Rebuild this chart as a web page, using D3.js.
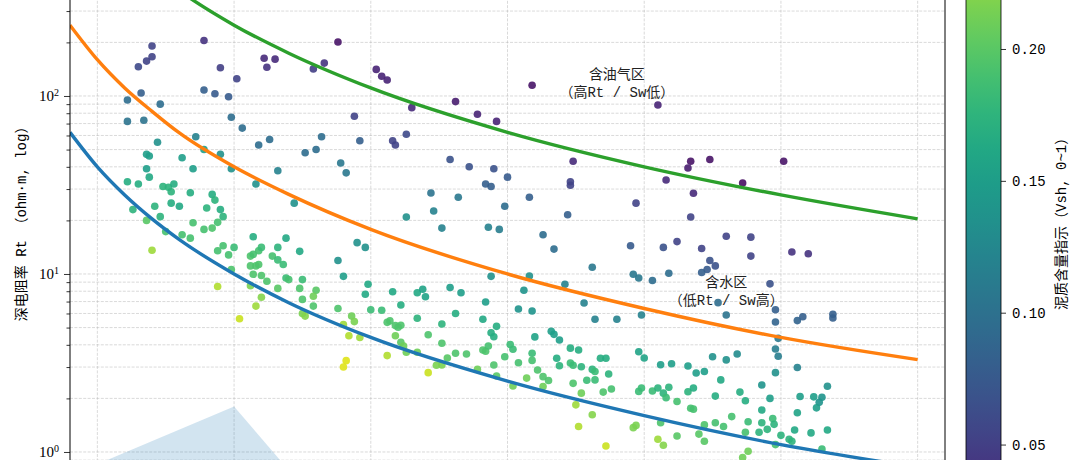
<!DOCTYPE html>
<html>
<head>
<meta charset="utf-8">
<script src="https://cdn.jsdelivr.net/npm/d3@7"></script>
<style>
html, body { margin: 0; padding: 0; background: #fff; overflow: hidden; }
svg { display: block; font-family: "Liberation Mono", "Noto Sans CJK SC", monospace; }
</style>
</head>
<body>
<svg id="chart" width="1080" height="460"></svg>
<script>
// Log samples: [porosity, deep resistivity Rt (ohm·m), Vsh]
const samples = [
  [0.070,191,0.054],[0.068,157,0.054],[0.070,166,0.054],[0.065,146,0.060],[0.089,205,0.040],
  [0.095,144,0.050],[0.101,125,0.054],[0.111,163,0.032],[0.112,145,0.040],[0.115,161,0.032],
  [0.138,201,0.014],[0.129,142,0.050],[0.133,153,0.040],[0.061,95,0.095],[0.066,104,0.081],
  [0.073,90,0.095],[0.061,72,0.103],[0.067,73,0.103],[0.089,108,0.081],[0.093,103,0.076],
  [0.098,99,0.076],[0.099,76,0.095],[0.103,66,0.095],[0.144,77,0.054],[0.146,56,0.081],
  [0.072,55,0.135],[0.086,59,0.120],[0.068,47,0.150],[0.069,46,0.150],[0.081,45,0.150],
  [0.089,50,0.150],[0.095,47,0.135],[0.109,53,0.095],[0.113,57,0.095],[0.132,59,0.095],
  [0.126,48,0.095],[0.130,50,0.095],[0.068,39,0.150],[0.069,35,0.162],[0.085,39,0.150],
  [0.099,39,0.135],[0.116,38,0.120],[0.139,42,0.108],[0.141,37,0.108],[0.061,33,0.167],
  [0.065,32,0.167],[0.074,31,0.175],[0.076,30.7,0.175],[0.078,32,0.167],[0.077,29,0.175],
  [0.084,28.6,0.167],[0.092,28,0.167],[0.093,26,0.175],[0.108,32,0.135],[0.122,25,0.135],
  [0.063,23,0.175],[0.071,24,0.175],[0.073,21,0.175],[0.077,25,0.167],[0.080,24,0.162],
  [0.090,23.5,0.175],[0.095,23,0.167],[0.096,21,0.175],[0.094,19.5,0.190],[0.068,20,0.200],
  [0.085,19.4,0.190],[0.089,17.8,0.190],[0.092,18.1,0.195],[0.070,13.6,0.230],[0.075,17.3,0.190],
  [0.081,16.6,0.190],[0.084,15.9,0.190],[0.107,16.2,0.167],[0.119,15.9,0.162],[0.145,15.0,0.135],
  [0.094,13.5,0.190],[0.096,14.4,0.190],[0.098,12.8,0.190],[0.100,14.1,0.184],[0.106,12.6,0.195],
  [0.107,12.9,0.190],[0.109,13.5,0.190],[0.110,14.1,0.184],[0.114,12.6,0.190],[0.116,14.1,0.175],
  [0.116,12.0,0.184],[0.118,11.3,0.184],[0.124,13.4,0.162],[0.106,11.1,0.195],[0.108,11.1,0.195],
  [0.109,11.3,0.195],[0.107,9.96,0.195],[0.110,9.8,0.195],[0.112,9.1,0.195],[0.099,10.6,0.195],
  [0.119,9.5,0.184],[0.120,9.3,0.190],[0.125,9.3,0.184],[0.094,8.5,0.238],[0.106,8.6,0.216],
  [0.116,8.3,0.200],[0.124,8.3,0.195],[0.130,8.1,0.200],[0.129,7.5,0.210],[0.125,7.2,0.195],
  [0.138,11.9,0.135],[0.140,9.7,0.150],[0.110,7.4,0.220],[0.108,6.6,0.230],[0.129,6.6,0.195],
  [0.138,6.4,0.195],[0.102,5.6,0.248],[0.125,6.0,0.216],[0.126,5.8,0.220],[0.143,5.8,0.210],
  [0.144,5.4,0.216],[0.140,5.2,0.230],[0.142,4.5,0.238],[0.146,4.4,0.230],[0.141,3.26,0.257],
  [0.140,3.0,0.257],[0.152,141,0.027],[0.154,129,0.027],[0.156,123,0.027],[0.165,86,0.032],
  [0.181,93,0.022],[0.189,79,0.027],[0.196,72,0.027],[0.209,115,0.014],[0.158,56,0.054],
  [0.159,53,0.054],[0.163,61,0.060],[0.179,44,0.068],[0.186,40,0.068],[0.195,39,0.068],
  [0.200,35,0.076],[0.192,32,0.081],[0.194,31,0.081],[0.208,27,0.081],[0.172,28.5,0.103],
  [0.182,27,0.108],[0.199,24,0.095],[0.173,22.6,0.120],[0.163,20.9,0.135],[0.176,18.1,0.120],
  [0.193,18.3,0.120],[0.197,17.8,0.113],[0.148,14.1,0.135],[0.213,16.6,0.095],[0.217,13.8,0.095],
  [0.194,9.7,0.135],[0.208,9.75,0.135],[0.206,8.1,0.140],[0.149,8.75,0.162],[0.148,7.7,0.162],
  [0.158,7.95,0.162],[0.167,7.85,0.162],[0.169,8.2,0.157],[0.170,7.45,0.157],[0.179,8.4,0.150],
  [0.183,7.85,0.150],[0.192,6.96,0.150],[0.161,6.7,0.167],[0.150,6.3,0.184],[0.154,6.25,0.184],
  [0.204,6.36,0.140],[0.209,6.2,0.140],[0.181,6.0,0.167],[0.167,5.64,0.175],[0.191,5.57,0.162],
  [0.156,5.35,0.195],[0.157,5.45,0.195],[0.159,5.13,0.195],[0.161,5.15,0.195],[0.160,5.02,0.195],
  [0.176,5.24,0.175],[0.196,5.08,0.167],[0.171,4.56,0.195],[0.159,4.5,0.210],[0.194,4.68,0.167],
  [0.195,4.44,0.167],[0.216,4.77,0.150],[0.217,4.58,0.150],[0.210,4.43,0.157],[0.161,4.13,0.200],
  [0.162,3.94,0.210],[0.176,4.08,0.195],[0.163,3.63,0.210],[0.156,3.48,0.238],[0.167,3.63,0.210],
  [0.178,3.37,0.200],[0.181,3.59,0.195],[0.185,3.55,0.195],[0.191,3.74,0.195],[0.192,3.68,0.195],
  [0.193,3.94,0.190],[0.201,4.01,0.184],[0.202,3.78,0.184],[0.199,3.43,0.190],[0.209,3.59,0.184],
  [0.209,3.27,0.190],[0.204,3.17,0.190],[0.174,3.07,0.216],[0.176,3.08,0.216],[0.195,3.08,0.195],
  [0.171,2.79,0.248],[0.189,2.91,0.210],[0.196,2.67,0.200],[0.211,2.89,0.195],[0.207,2.6,0.210],
  [0.213,2.65,0.195],[0.215,2.52,0.195],[0.213,2.33,0.210],[0.202,2.35,0.210],[0.255,89,0.027],
  [0.224,43,0.032],[0.223,33,0.054],[0.223,31.5,0.054],[0.247,25,0.054],[0.222,21.5,0.081],
  [0.267,43,0.014],[0.266,39.4,0.022],[0.274,44,0.014],[0.258,33.7,0.032],[0.268,28.4,0.032],
  [0.286,32.4,0.011],[0.267,20.9,0.054],[0.301,43,0.014],[0.280,16.3,0.054],[0.289,16.1,0.054],
  [0.245,14.4,0.076],[0.257,14.1,0.068],[0.262,15.2,0.054],[0.271,13.9,0.054],[0.289,12.6,0.054],
  [0.274,11.9,0.068],[0.276,11.1,0.068],[0.273,10.6,0.076],[0.271,10.2,0.081],[0.231,10.9,0.108],
  [0.246,9.96,0.108],[0.248,9.5,0.108],[0.259,10.1,0.095],[0.253,9.2,0.095],[0.221,8.75,0.120],
  [0.228,6.87,0.120],[0.277,6.9,0.095],[0.280,5.88,0.103],[0.232,5.57,0.120],[0.240,5.57,0.120],
  [0.249,5.88,0.120],[0.219,4.26,0.150],[0.223,3.83,0.167],[0.226,3.74,0.167],[0.218,3.36,0.167],
  [0.219,3.05,0.175],[0.223,3.16,0.184],[0.224,3.07,0.184],[0.227,3.01,0.175],[0.234,3.36,0.167],
  [0.236,3.36,0.167],[0.231,2.91,0.175],[0.232,2.83,0.184],[0.237,2.74,0.175],[0.229,2.53,0.184],
  [0.232,2.54,0.184],[0.224,2.43,0.195],[0.227,2.14,0.210],[0.235,2.17,0.195],[0.238,2.26,0.190],
  [0.248,3.66,0.157],[0.250,3.37,0.157],[0.256,3.09,0.150],[0.260,3.13,0.150],[0.266,3.04,0.150],
  [0.269,2.78,0.150],[0.272,2.83,0.150],[0.275,3.43,0.135],[0.280,3.29,0.135],[0.284,3.55,0.130],
  [0.278,2.54,0.162],[0.285,2.17,0.167],[0.276,2.06,0.167],[0.287,1.94,0.167],[0.248,2.19,0.184],
  [0.249,2.29,0.184],[0.253,2.2,0.184],[0.255,2.29,0.175],[0.257,2.14,0.175],[0.258,2.02,0.184],
  [0.259,2.31,0.175],[0.266,2.18,0.175],[0.268,2.29,0.167],[0.262,1.92,0.190],[0.267,1.76,0.190],
  [0.268,1.74,0.190],[0.225,1.84,0.230],[0.231,1.62,0.220],[0.246,1.37,0.216],[0.247,1.41,0.216],
  [0.226,1.39,0.238],[0.256,1.46,0.195],[0.272,1.42,0.195],[0.276,1.46,0.190],[0.279,1.39,0.190],
  [0.282,1.58,0.190],[0.288,1.48,0.184],[0.262,1.23,0.200],[0.270,1.26,0.200],[0.255,1.18,0.230],
  [0.257,1.09,0.220],[0.272,1.15,0.200],[0.236,1.08,0.248],[0.287,1.29,0.190],[0.288,1.01,0.210],
  [0.286,0.93,0.210],[0.304,13.3,0.040],[0.310,13.0,0.040],[0.296,8.8,0.068],[0.298,6.3,0.081],
  [0.298,5.37,0.086],[0.306,5.47,0.086],[0.308,5.75,0.081],[0.319,5.94,0.081],[0.319,5.66,0.081],
  [0.299,4.35,0.108],[0.298,3.79,0.113],[0.299,3.45,0.113],[0.306,2.98,0.120],[0.298,2.79,0.135],
  [0.293,2.38,0.140],[0.317,2.34,0.135],[0.296,2.0,0.150],[0.307,2.05,0.150],[0.312,2.04,0.150],
  [0.315,2.03,0.140],[0.314,1.90,0.140],[0.313,1.77,0.150],[0.293,1.72,0.162],[0.306,1.66,0.157],
  [0.297,1.54,0.184],[0.293,1.46,0.175],[0.2975,1.43,0.175],[0.295,1.34,0.175],[0.292,1.29,0.175],
  [0.305,1.33,0.162],[0.311,1.28,0.162],[0.317,1.33,0.162],[0.300,1.24,0.175],[0.303,1.18,0.175],
  [0.304,1.15,0.175],[0.298,1.10,0.190],[0.315,1.04,0.184]
];

// Saturation reference lines (Rt at each porosity)
const curvePhi = [0.04, 0.05, 0.06, 0.07, 0.08, 0.10, 0.12, 0.15, 0.20, 0.25, 0.30, 0.35];
const rtSw100 = [62.5, 40, 27.8, 20.4, 15.6, 10, 6.9, 4.4, 2.5, 1.6, 1.1, 0.82];
const rtSw50 = [250, 160, 111, 82, 62, 40, 28, 17.8, 10, 6.4, 4.4, 3.3];
const rtSw20 = [1560, 1000, 694, 510, 390, 250, 174, 111, 62.5, 40, 27.8, 20.4];

// Shaded zone at low porosity / low Rt
const shadeZone = [[0.052, 0.88], [0.10, 1.8], [0.12, 0.79], [0.08, 0.55]];

const xTicks = [0.05, 0.10, 0.15, 0.20, 0.25, 0.30, 0.35];
const yGridMajor = [1, 10, 100, 1000];
const yLabelled = [1, 10, 100];
const cbTicks = [0.05, 0.10, 0.15, 0.20];

const notes = [
  { phi: 0.24, rt: 118, lines: ['含油气区', '（高Rt / Sw低）'] },
  { phi: 0.28, rt: 8, lines: ['含水区', '（低Rt / Sw高）'] }
];
const zoneLabel = { phi: 0.058, rt: 0.76, text: '泥质/致密干扰区' };

// ---------------------------------------------------------------------------
// Layout
// ---------------------------------------------------------------------------
const plot = { left: 70, right: 945, top: -135.6, bottom: 576.4 };
const cbar = { left: 966, width: 35 };

const svg = d3.select('#chart');

const x = d3.scaleLinear().domain([0.04, 0.36]).range([plot.left, plot.right]);
const y = d3.scaleLog().domain([0.2, 2000]).range([plot.bottom, plot.top]);
const vshRange = [0, 0.27];
const color = d3.scaleSequential(d3.interpolateViridis).domain(vshRange);

const yMinor = [];
[0.1, 1, 10, 100, 1000].forEach(base => {
  for (let m = 2; m <= 9; m++) {
    const v = base * m;
    if (v >= 0.2 && v <= 2000) yMinor.push(v);
  }
});

svg.append('defs').append('clipPath').attr('id', 'plot-clip')
  .append('rect')
  .attr('x', plot.left).attr('y', plot.top)
  .attr('width', plot.right - plot.left).attr('height', plot.bottom - plot.top);

const g = svg.append('g').attr('clip-path', 'url(#plot-clip)');

// Grid
const gridStyle = sel => sel
  .attr('stroke', '#b0b0b0')
  .attr('stroke-opacity', 0.6)
  .attr('stroke-width', 0.8)
  .attr('stroke-dasharray', '3,1.4');

g.selectAll('.hgrid')
  .data(yGridMajor.concat(yMinor))
  .enter().append('line')
  .attr('x1', plot.left).attr('x2', plot.right)
  .attr('y1', d => y(d)).attr('y2', d => y(d))
  .call(gridStyle);

g.selectAll('.vgrid')
  .data(xTicks)
  .enter().append('line')
  .attr('x1', d => x(d)).attr('x2', d => x(d))
  .attr('y1', plot.top).attr('y2', plot.bottom)
  .call(gridStyle);

// Shaded zone
g.append('path')
  .datum(shadeZone)
  .attr('d', d3.line().x(d => x(d[0])).y(d => y(d[1])))
  .attr('fill', '#1f77b4')
  .attr('fill-opacity', 0.2)
  .attr('stroke', 'none');

// Scatter
g.selectAll('.pt')
  .data(samples)
  .enter().append('circle')
  .attr('cx', d => x(d[0]))
  .attr('cy', d => y(d[1]))
  .attr('r', 3.8)
  .attr('fill', d => color(d[2]))
  .attr('fill-opacity', 0.9);

// Saturation lines
const line = d3.line()
  .x(d => x(d[0]))
  .y(d => y(d[1]))
  .curve(d3.curveMonotoneX);

[
  { rt: rtSw100, stroke: '#1f77b4' },
  { rt: rtSw50, stroke: '#ff7f0e' },
  { rt: rtSw20, stroke: '#2ca02c' }
].forEach(c => {
  g.append('path')
    .datum(curvePhi.map((p, i) => [p, c.rt[i]]))
    .attr('d', line)
    .attr('fill', 'none')
    .attr('stroke', c.stroke)
    .attr('stroke-width', 3.4);
});

// Annotations
notes.forEach(n => {
  const cx = x(n.phi), cy = y(n.rt);
  const t = g.append('text')
    .attr('text-anchor', 'middle')
    .attr('font-size', 14)
    .attr('fill', '#222');
  t.append('tspan').attr('x', cx).attr('y', cy - 4).text(n.lines[0]);
  t.append('tspan').attr('x', cx).attr('y', cy + 14).text(n.lines[1]);
});

g.append('text')
  .attr('x', x(zoneLabel.phi))
  .attr('y', y(zoneLabel.rt))
  .attr('font-size', 14)
  .attr('fill', '#222')
  .text(zoneLabel.text);

// Frame
svg.append('rect')
  .attr('x', plot.left).attr('y', plot.top)
  .attr('width', plot.right - plot.left).attr('height', plot.bottom - plot.top)
  .attr('fill', 'none').attr('stroke', '#000').attr('stroke-width', 1);

// Y axis (major + minor)
const yAxisG = svg.append('g')
  .attr('transform', `translate(${plot.left},0)`)
  .call(d3.axisLeft(y).tickValues(yLabelled).tickSize(6).tickPadding(5).tickFormat(() => ''));
yAxisG.select('.domain').remove();
yAxisG.selectAll('.tick text')
  .attr('font-family', '"Liberation Serif", "DejaVu Serif", serif')
  .attr('font-size', 15)
  .attr('fill', '#000')
  .each(function(d) {
    const t = d3.select(this);
    t.append('tspan').text('10');
    t.append('tspan').attr('dy', '-0.55em').attr('font-size', 10).text(Math.round(Math.log10(d)));
  });

const yMinorG = svg.append('g')
  .attr('transform', `translate(${plot.left},0)`)
  .call(d3.axisLeft(y).tickValues(yMinor.filter(v => y(v) > 0)).tickSize(3.5).tickFormat(() => ''));
yMinorG.select('.domain').remove();
svg.selectAll('.tick line').attr('stroke-width', 0.8);

svg.append('text')
  .attr('transform', `translate(22,${(plot.top + plot.bottom) / 2}) rotate(-90)`)
  .attr('text-anchor', 'middle')
  .attr('dominant-baseline', 'central')
  .attr('font-size', 14)
  .text('深电阻率 Rt （ohm·m, log）');

// Colorbar
const grad = svg.select('defs').append('linearGradient')
  .attr('id', 'vsh-grad')
  .attr('x1', 0).attr('y1', 1).attr('x2', 0).attr('y2', 0);
d3.range(0, 1.0001, 0.05).forEach(t => {
  grad.append('stop').attr('offset', t).attr('stop-color', d3.interpolateViridis(t));
});

svg.append('rect')
  .attr('x', cbar.left).attr('y', plot.top)
  .attr('width', cbar.width).attr('height', plot.bottom - plot.top)
  .attr('fill', 'url(#vsh-grad)')
  .attr('stroke', '#000').attr('stroke-width', 0.8);

const cbScale = d3.scaleLinear().domain(vshRange).range([plot.bottom, plot.top]);
const cbAxis = svg.append('g')
  .attr('transform', `translate(${cbar.left + cbar.width},0)`)
  .call(d3.axisRight(cbScale).tickValues(cbTicks).tickSize(5).tickPadding(6).tickFormat(d3.format('.2f')));
cbAxis.select('.domain').remove();
cbAxis.selectAll('.tick text')
  .attr('font-family', '"Liberation Mono", monospace')
  .attr('font-size', 14)
  .attr('fill', '#000');
cbAxis.selectAll('.tick line').attr('stroke-width', 0.8);

svg.append('text')
  .attr('transform', `translate(1062,${(plot.top + plot.bottom) / 2}) rotate(-90)`)
  .attr('text-anchor', 'middle')
  .attr('dominant-baseline', 'central')
  .attr('font-size', 14)
  .text('泥质含量指示（Vsh, 0~1）');
</script>
</body>
</html>
